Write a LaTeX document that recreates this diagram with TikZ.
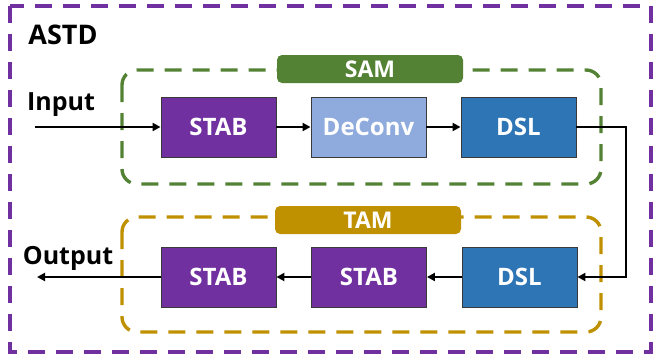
\documentclass[tikz,border=0pt]{standalone}
\usepackage{fontspec}
\setmainfont{Open Sans}
\usetikzlibrary{arrows.meta}
\definecolor{cpurple}{HTML}{7030A0}
\definecolor{clight}{HTML}{8FAADC}
\definecolor{cblue}{HTML}{2E75B6}
\definecolor{cgreen}{HTML}{548235}
\definecolor{cgold}{HTML}{BF9000}
\definecolor{cborder}{HTML}{3A3A3A}
\begin{document}
\begin{tikzpicture}[x=1pt,y=-1pt,
  blockbox/.style={draw=cborder,line width=0.9pt,minimum width=115pt,minimum height=60pt,inner sep=0pt,text=white,font=\fontsize{24}{26}\selectfont\bfseries},
  tagbox/.style={rounded corners=5pt,minimum width=186pt,minimum height=28pt,inner sep=0pt,text=white,font=\fontsize{23}{25}\selectfont\bfseries},
  dashframe/.style={line width=3.4pt,dash pattern=on 17pt off 11pt,rounded corners=15pt},
  plaintext/.style={inner sep=0pt,text=black,font=\bfseries},
  flow/.style={line width=2pt,-{Triangle[length=8pt,width=8pt]}}
]
\useasboundingbox (0,0) rectangle (654,359);
% outer frame
\draw[line width=3.4pt,dash pattern=on 17pt off 11pt,draw=cpurple] (10,6) rectangle (651,352);
\node[plaintext,font=\fontsize{27}{29}\selectfont\bfseries] (astd) at (63,35) {ASTD};
% SAM group
\draw[dashframe,draw=cgreen] (122,70) rectangle (601,184);
\node[tagbox,fill=cgreen] (sam) at (370,69) {SAM};
% TAM group
\draw[dashframe,draw=cgold] (122,217) rectangle (601,332);
\node[tagbox,fill=cgold] (tam) at (368,220) {TAM};
% blocks row 1
\node[blockbox,fill=cpurple] (s1) at (218.5,127) {STAB};
\node[blockbox,fill=clight] (dc) at (368.5,127) {DeConv};
\node[blockbox,fill=cblue] (d1) at (518.5,127) {DSL};
% blocks row 2
\node[blockbox,fill=cpurple] (s3) at (218.5,277) {STAB};
\node[blockbox,fill=cpurple] (s2) at (369,277) {STAB};
\node[blockbox,fill=cblue] (d2) at (519.5,277) {DSL};
% labels
\node[plaintext,font=\fontsize{25}{27}\selectfont\bfseries] (inp) at (61,105) {Input};
\node[plaintext,font=\fontsize{25}{27}\selectfont\bfseries] (outp) at (68,258) {Output};
\coordinate (inStart) at (35,127);
\coordinate (outEnd) at (37,277);
\coordinate (turn) at (626,127);
% connectors
\draw[flow] (inStart) -- (s1.west);
\draw[flow] (s1.east) -- (dc.west);
\draw[flow] (dc.east) -- (d1.west);
\draw[flow] (d1.east) -- (turn) |- (d2.east);
\draw[flow] (d2.west) -- (s2.east);
\draw[flow] (s2.west) -- (s3.east);
\draw[flow] (s3.west) -- (outEnd);
\end{tikzpicture}
\end{document}
